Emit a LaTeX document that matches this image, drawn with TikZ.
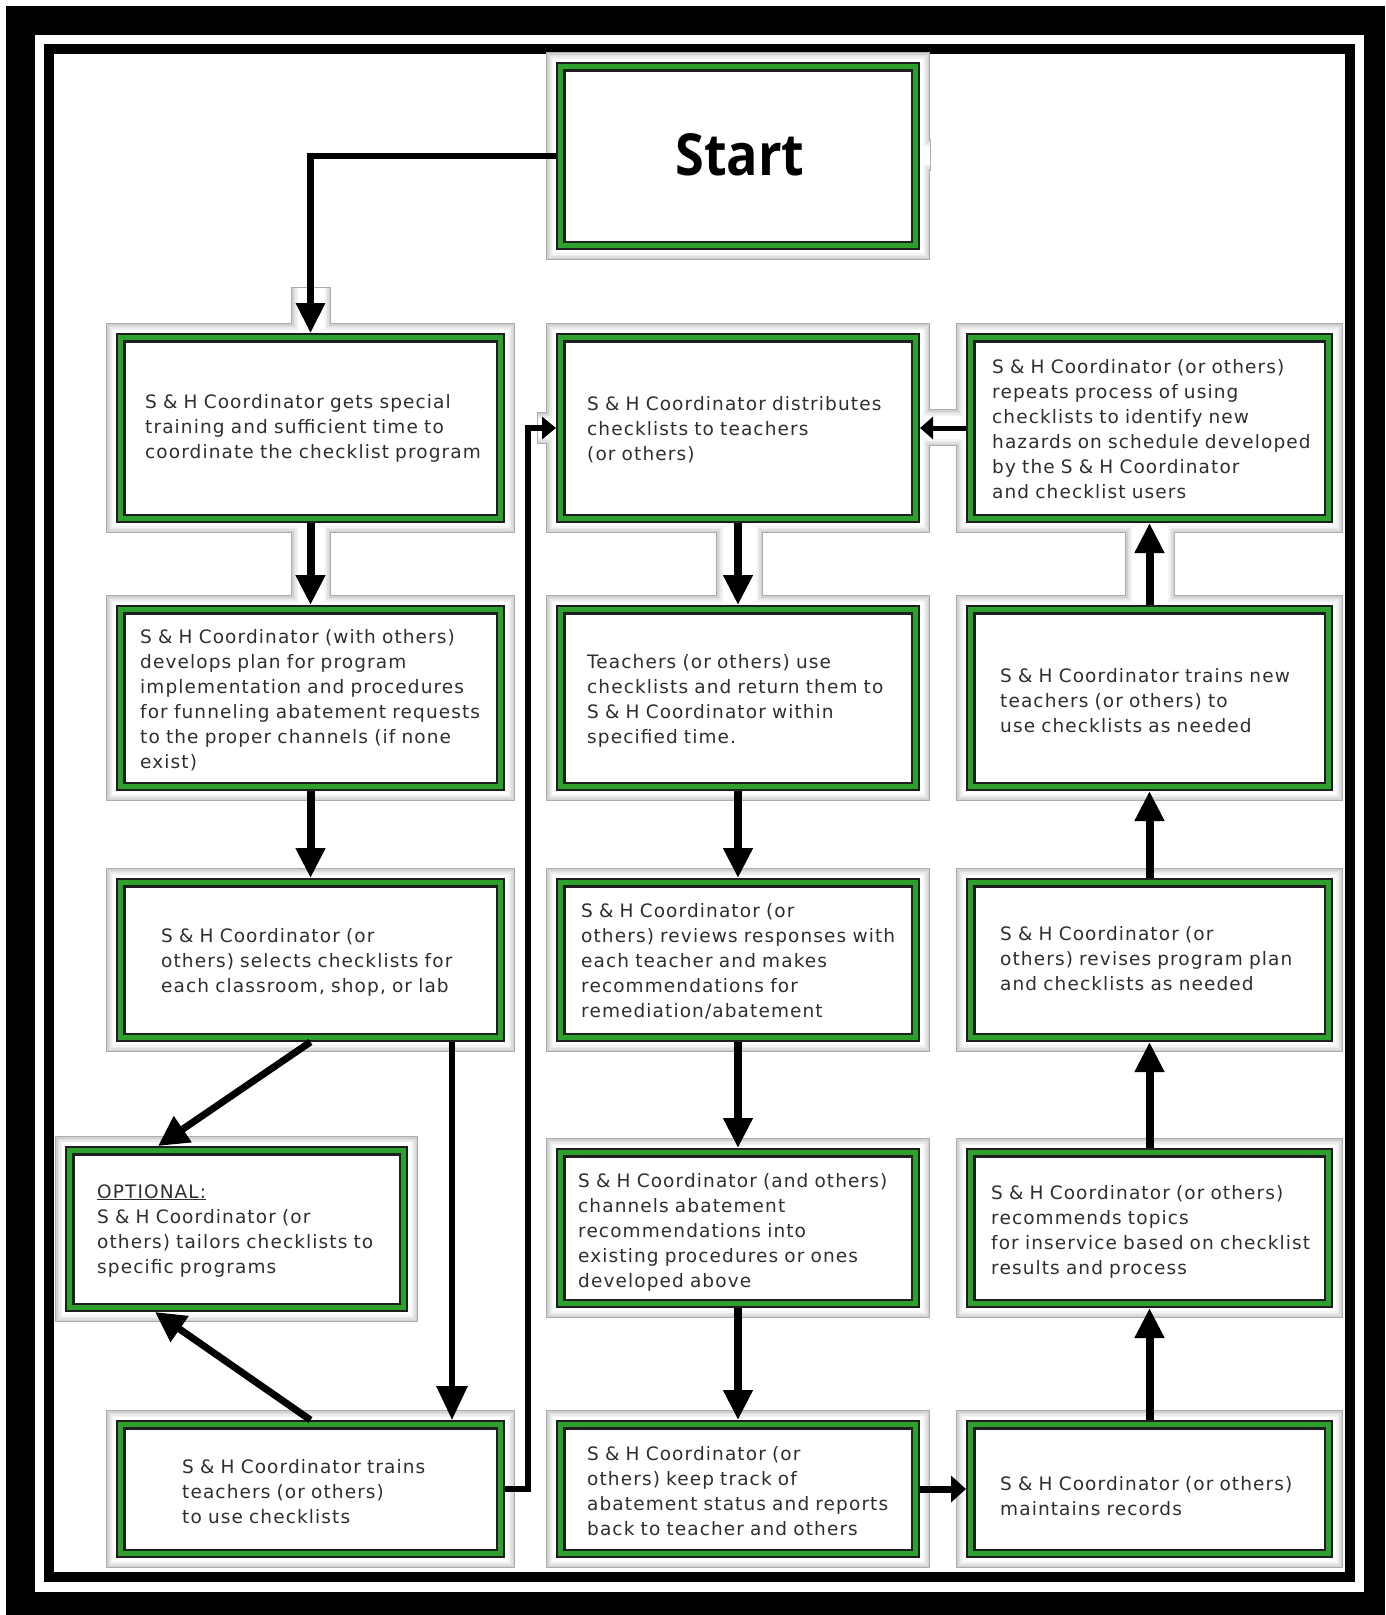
\documentclass[tikz,border=0pt]{standalone}
\usepackage{fontspec}
\setmainfont{DejaVu Sans}[LetterSpace=6]
\newfontfamily\startfont{Open Sans}[FakeStretch=0.9]
\usetikzlibrary{arrows.meta}
\definecolor{boxgreen}{RGB}{46,160,46}
\definecolor{darkline}{RGB}{30,30,30}
\tikzset{
  boxnode/.style={rectangle, inner sep=0pt, outer sep=0pt},
  framestroke/.style={draw=gray!65, line width=2.5pt},
  txt/.style={anchor=base west, align=left, text width=360pt, inner sep=0pt,
    font=\fontsize{18.5}{25}\selectfont, text=black!82},
  bigarrow/.style={line width=8pt, -{Triangle[length=30pt,width=28pt]}},
  diagarrow/.style={line width=7pt, -{Triangle[length=30pt,width=30pt]}},
}
\begin{document}
\begin{tikzpicture}[x=1pt,y=-1pt]
\useasboundingbox (0,0) rectangle (1385,1615);
% page frame
\fill[black] (6,6) rectangle (1385,1615);
\fill[white] (35,35) rectangle (1364,1592);
\fill[black] (44,44) rectangle (1355,1582);
\fill[white] (54,54) rectangle (1345,1572);

% box placeholders (green outer edge)
\node[boxnode, minimum width=364pt, minimum height=188pt] (start) at (738,156) {};
\node[boxnode, minimum width=389pt, minimum height=190pt] (A) at (310.5,428) {};
\node[boxnode, minimum width=389pt, minimum height=186pt] (B) at (310.5,698) {};
\node[boxnode, minimum width=389pt, minimum height=164pt] (C) at (310.5,960) {};
\node[boxnode, minimum width=343pt, minimum height=166pt] (D) at (236.5,1229) {};
\node[boxnode, minimum width=389pt, minimum height=138pt] (E) at (310.5,1489) {};
\node[boxnode, minimum width=364pt, minimum height=190pt] (F) at (738,428) {};
\node[boxnode, minimum width=364pt, minimum height=186pt] (G) at (738,698) {};
\node[boxnode, minimum width=364pt, minimum height=164pt] (J) at (738,960) {};
\node[boxnode, minimum width=364pt, minimum height=160pt] (K) at (738,1228) {};
\node[boxnode, minimum width=364pt, minimum height=138pt] (N) at (738,1489) {};
\node[boxnode, minimum width=367pt, minimum height=190pt] (H) at (1149.5,428) {};
\node[boxnode, minimum width=367pt, minimum height=186pt] (I) at (1149.5,698) {};
\node[boxnode, minimum width=367pt, minimum height=164pt] (L) at (1149.5,960) {};
\node[boxnode, minimum width=367pt, minimum height=160pt] (M) at (1149.5,1228) {};
\node[boxnode, minimum width=367pt, minimum height=138pt] (O) at (1149.5,1489) {};

% bevel frames and arrow corridors (union with inner glow)
\foreach \n in {start,A,B,C,D,E,F,G,J,K,N,H,I,L,M,O}
  \draw[framestroke] ([shift={(-9,-9)}]\n.north west) rectangle ([shift={(9,9)}]\n.south east);
\foreach \a/\b/\c/\d/\u/\v in {292/288/330/333/1/0, 292/523/330/605/1/0, 717/523/762/605/1/0, 1126/523/1174/605/1/0, 920/410/966/445/0/1, 538/413/556/443/0/1, 920/140/930/170/0/1}
  \draw[framestroke] (\a,\b) rectangle (\c,\d);
\foreach \k/\col in {0/36, 1.5/25, 3/16, 4.5/8, 6/0} {
  \foreach \n in {start,A,B,C,D,E,F,G,J,K,N,H,I,L,M,O}
    \fill[gray!\col] ([shift={(-9+\k,-9+\k)}]\n.north west) rectangle ([shift={(9-\k,9-\k)}]\n.south east);
  \foreach \a/\b/\c/\d/\u/\v in {292/288/330/333/1/0, 292/523/330/605/1/0, 717/523/762/605/1/0, 1126/523/1174/605/1/0, 920/410/966/445/0/1, 538/413/556/443/0/1, 920/140/930/170/0/1}
    \fill[gray!\col] (\a+\k*\u,\b+\k*\v) rectangle (\c-\k*\u,\d-\k*\v);
}

% green double-lined boxes
\foreach \n in {start,A,B,C,D,E,F,G,J,K,N,H,I,L,M,O} {
  \fill[darkline] (\n.north west) rectangle (\n.south east);
  \fill[boxgreen] ([shift={(2,2)}]\n.north west) rectangle ([shift={(-2,-2)}]\n.south east);
  \fill[darkline] ([shift={(7,7)}]\n.north west) rectangle ([shift={(-7,-7)}]\n.south east);
  \fill[white] ([shift={(9.5,9.5)}]\n.north west) rectangle ([shift={(-9.5,-9.5)}]\n.south east);
}

% connectors
\draw[line width=6.5pt, -{Triangle[length=30pt,width=28pt]}] (start.west) -| (A.north);
\draw[bigarrow] (A.south) -- (B.north);
\draw[bigarrow] (B.south) -- (C.north);
\draw[diagarrow] (C.south) -- ([xshift=93pt]D.north west);
\draw[line width=6pt, -{Triangle[length=34pt,width=30pt]}] ([xshift=-53pt]C.south east) -- ([xshift=-53pt]E.north east);
\draw[diagarrow] (E.north) -- ([xshift=90pt]D.south west);
\draw[line width=6pt, -{Triangle[length=14pt,width=22pt]}] (E.east) -- ++(23,0) |- (F.west);
\draw[bigarrow] (F.south) -- (G.north);
\draw[bigarrow] (G.south) -- (J.north);
\draw[bigarrow] (J.south) -- (K.north);
\draw[bigarrow] (K.south) -- (N.north);
\draw[line width=7pt, -{Triangle[length=15pt,width=26pt]}] (N.east) -- (O.west);
\draw[bigarrow] (O.north) -- (M.south);
\draw[bigarrow] (M.north) -- (L.south);
\draw[bigarrow] (L.north) -- (I.south);
\draw[bigarrow] (I.north) -- (H.south);
\draw[line width=5pt, -{Triangle[length=13pt,width=22pt]}] (H.west) -- (F.east);

% texts
\node[anchor=base, inner sep=0pt, font=\startfont\bfseries\fontsize{58}{60}\selectfont] (tstart) at (740,175) {Start};
\node[txt] (tA) at (145,408) {S \& H Coordinator gets special\\training and sufficient time to\\coordinate the checklist program};
\node[txt] (tB) at (140,643) {S \& H Coordinator (with others)\\develops plan for program\\implementation and procedures\\for funneling abatement requests\\to the proper channels (if none\\exist)};
\node[txt] (tC) at (161,942) {S \& H Coordinator (or\\others) selects checklists for\\each classroom, shop, or lab};
\node[txt] (tD) at (97,1198) {\underline{OPTIONAL:}\\S \& H Coordinator (or\\others) tailors checklists to\\specific programs};
\node[txt] (tE) at (182,1473) {S \& H Coordinator trains\\teachers (or others)\\to use checklists};
\node[txt] (tF) at (587,410) {S \& H Coordinator distributes\\checklists to teachers\\(or others)};
\node[txt] (tG) at (587,668) {Teachers (or others) use\\checklists and return them to\\S \& H Coordinator within\\specified time.};
\node[txt] (tJ) at (581,917) {S \& H Coordinator (or\\others) reviews responses with\\each teacher and makes\\recommendations for\\remediation/abatement};
\node[txt] (tK) at (578,1187) {S \& H Coordinator (and others)\\channels abatement\\recommendations into\\existing procedures or ones\\developed above};
\node[txt] (tN) at (587,1460) {S \& H Coordinator (or\\others) keep track of\\abatement status and reports\\back to teacher and others};
\node[txt] (tH) at (992,373) {S \& H Coordinator (or others)\\repeats process of using\\checklists to identify new\\hazards on schedule developed\\by the S \& H Coordinator\\and checklist users};
\node[txt] (tI) at (1000,682) {S \& H Coordinator trains new\\teachers (or others) to\\use checklists as needed};
\node[txt] (tL) at (1000,940) {S \& H Coordinator (or\\others) revises program plan\\and checklists as needed};
\node[txt] (tM) at (991,1199) {S \& H Coordinator (or others)\\recommends topics\\for inservice based on checklist\\results and process};
\node[txt] (tO) at (1000,1490) {S \& H Coordinator (or others)\\maintains records};
\end{tikzpicture}
\end{document}
